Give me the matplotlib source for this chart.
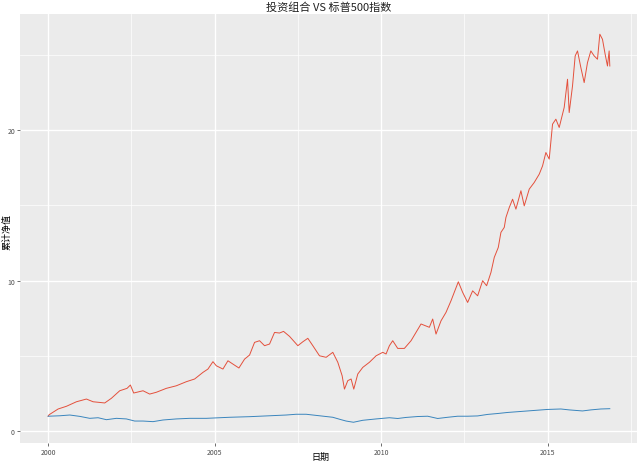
import matplotlib
matplotlib.use("Agg")
import matplotlib.pyplot as plt
import numpy as np

plt.rcParams['font.family'] = ['Noto Sans CJK SC', 'DejaVu Sans']

# values (year, cumulative net value)
port_year = [2000.00, 2000.03, 2000.30, 2000.55, 2000.85, 2001.15, 2001.35, 2001.70, 2001.90,
             2002.15, 2002.37, 2002.47, 2002.57, 2002.85, 2003.05, 2003.25, 2003.55, 2003.85,
             2004.15, 2004.40, 2004.65, 2004.80, 2004.95, 2005.05, 2005.25, 2005.40, 2005.55,
             2005.73, 2005.90, 2006.05, 2006.20, 2006.35, 2006.50, 2006.65, 2006.80, 2006.95,
             2007.07, 2007.25, 2007.50, 2007.65, 2007.80, 2007.95, 2008.15, 2008.35, 2008.55,
             2008.70, 2008.83, 2008.90, 2009.00, 2009.10, 2009.18, 2009.30, 2009.45, 2009.65,
             2009.85, 2010.05, 2010.15, 2010.25, 2010.35, 2010.50, 2010.70, 2010.90, 2011.20,
             2011.45, 2011.55, 2011.65, 2011.80, 2011.95, 2012.10, 2012.32, 2012.45, 2012.60,
             2012.75, 2012.90, 2013.05, 2013.17, 2013.30, 2013.40, 2013.52, 2013.60, 2013.70,
             2013.75, 2013.85, 2013.95, 2014.05, 2014.20, 2014.30, 2014.45, 2014.60, 2014.75,
             2014.85, 2014.95, 2015.05, 2015.15, 2015.25, 2015.35, 2015.50, 2015.60, 2015.65,
             2015.75, 2015.83, 2015.90, 2016.00, 2016.10, 2016.20, 2016.30, 2016.40, 2016.50,
             2016.57, 2016.65, 2016.73, 2016.80, 2016.85, 2016.87]
port_val = [1.00, 1.10, 1.48, 1.66, 1.96, 2.14, 1.96, 1.88, 2.19,
            2.69, 2.85, 3.07, 2.54, 2.69, 2.47, 2.59, 2.85, 3.02,
            3.29, 3.47, 3.91, 4.13, 4.62, 4.35, 4.13, 4.68, 4.46,
            4.20, 4.79, 5.06, 5.90, 6.01, 5.68, 5.79, 6.56, 6.52,
            6.63, 6.30, 5.68, 5.94, 6.17, 5.68, 5.01, 4.91, 5.24,
            4.58, 3.69, 2.80, 3.36, 3.47, 2.80, 3.80, 4.24, 4.58,
            5.01, 5.24, 5.13, 5.68, 6.01, 5.50, 5.50, 6.01, 7.12,
            6.90, 7.45, 6.45, 7.33, 7.89, 8.66, 9.92, 9.22, 8.55,
            9.32, 8.99, 9.99, 9.66, 10.54, 11.54, 12.20, 13.20, 13.53,
            14.19, 14.85, 15.40, 14.74, 15.96, 14.96, 16.07, 16.51, 17.06,
            17.61, 18.50, 18.06, 20.38, 20.71, 20.16, 21.49, 23.36, 21.15,
            22.92, 24.91, 25.24, 24.14, 23.14, 24.47, 25.24, 24.91, 24.69,
            26.35, 26.01, 25.02, 24.24, 25.24, 24.24]

spx_year = [2000.00, 2000.35, 2000.65, 2000.95, 2001.25, 2001.50, 2001.75, 2002.05, 2002.35,
            2002.60, 2002.85, 2003.15, 2003.45, 2003.85, 2004.25, 2004.75, 2005.15, 2005.45,
            2006.05, 2006.65, 2007.15, 2007.45, 2007.75, 2008.15, 2008.55, 2008.80, 2008.95,
            2009.17, 2009.45, 2009.85, 2010.25, 2010.50, 2010.75, 2011.10, 2011.40, 2011.70,
            2012.00, 2012.30, 2012.60, 2012.90, 2013.20, 2013.50, 2013.80, 2014.10, 2014.40,
            2014.70, 2015.00, 2015.40, 2015.65, 2016.05, 2016.30, 2016.60, 2016.87]
spx_val = [1.00, 1.03, 1.08, 0.99, 0.86, 0.90, 0.77, 0.86, 0.82,
           0.68, 0.68, 0.64, 0.75, 0.82, 0.86, 0.86, 0.90, 0.93,
           0.97, 1.03, 1.08, 1.13, 1.13, 1.03, 0.93, 0.77, 0.68,
           0.60, 0.73, 0.82, 0.90, 0.85, 0.92, 0.98, 1.00, 0.85,
           0.93, 1.00, 1.00, 1.02, 1.12, 1.18, 1.25, 1.30, 1.35,
           1.40, 1.45, 1.48, 1.42, 1.35, 1.42, 1.48, 1.50]

x_ticks = [2000, 2005, 2010, 2015]
y_ticks = [0, 10, 20]

fig = plt.figure(figsize=(6.4, 4.64), dpi=100)
ax = fig.add_axes([0.031, 0.043, 0.965, 0.925])
ax.set_facecolor('#EBEBEB')

ax.plot(port_year, port_val, color='#E4503C', linewidth=0.7)
ax.plot(spx_year, spx_val, color='#3A85BD', linewidth=0.7)

ax.set_xlim(1999.15, 2017.7)
ax.set_ylim(-0.78, 27.7)
ax.set_xticks(x_ticks)
ax.set_xticklabels([str(t) for t in x_ticks])
ax.set_yticks(y_ticks)
ax.set_xticks([2002.5, 2007.5, 2012.5, 2017.5], minor=True)
ax.set_yticks([5, 15, 25], minor=True)

ax.grid(which='major', color='white', linewidth=1.0)
ax.grid(which='minor', color='white', linewidth=0.5)
ax.set_axisbelow(True)
for s in ax.spines.values():
    s.set_visible(False)
ax.tick_params(which='major', length=2, width=0.5, color='#333333',
               labelsize=5, labelcolor='#4D4D4D', pad=1.5)
ax.tick_params(which='minor', length=0)

ax.set_title('投资组合 VS 标普500指数', fontsize=8, pad=3, color='#222222')
fig.text(0.5, 0.004, '日期', fontsize=6.5, ha='center', va='bottom')
fig.text(0.004, 0.5, '累计净值', fontsize=6.5, rotation=90, ha='left', va='center')

fig.savefig('out.png', dpi=100)
